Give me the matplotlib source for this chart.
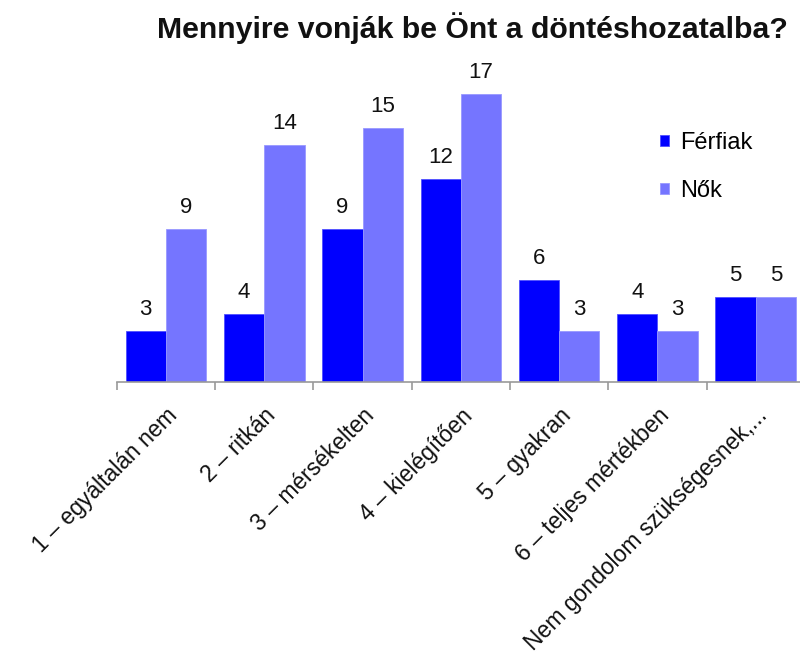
import matplotlib
matplotlib.use("Agg")
import matplotlib.pyplot as plt
import numpy as np

plt.rcParams['font.family'] = ['Liberation Sans', 'DejaVu Sans']

categories = ["1 – egyáltalán nem", "2 – ritkán", "3 – mérsékelten", "4 – kielégítően",
              "5 – gyakran", "6 – teljes mértékben", "Nem gondolom szükségesnek,..."]
ferfiak = [3, 4, 9, 12, 6, 4, 5]
nok = [9, 14, 15, 17, 3, 3, 5]
series_names = ["Férfiak", "Nők"]
colors = ["#0000FF", "#7575FF"]

fig = plt.figure(figsize=(8, 6.58), dpi=100)
ax = fig.add_axes([0.146, 0.4195, 0.86, 0.515])

x = np.arange(len(categories))
w = 0.41
b1 = ax.bar(x - w/2, ferfiak, w, color=colors[0], edgecolor="#5050FF", linewidth=0.6, label=series_names[0])
b2 = ax.bar(x + w/2, nok, w, color=colors[1], edgecolor="#9898FF", linewidth=0.6, label=series_names[1])

for bars, vals in ((b1, ferfiak), (b2, nok)):
    for r, v in zip(bars, vals):
        ax.annotate(str(v), (r.get_x() + r.get_width()/2, v), xytext=(0, 8),
                    textcoords="offset points", ha="center", va="bottom",
                    fontsize=16, color="#111111")

ax.set_xlim(-0.5, len(categories) - 0.5)
ax.set_ylim(0, 20)
ax.set_yticks([])
for s in ("top", "right", "left"):
    ax.spines[s].set_visible(False)
ax.spines["bottom"].set_color("#999999")
ax.spines["bottom"].set_linewidth(1.2)

ax.set_xticks(np.arange(len(categories) + 1) - 0.5, minor=False)
ax.set_xticklabels([])
ax.tick_params(axis="x", which="major", length=6, color="#999999", width=1.2)
ax.set_xticks(x, minor=True)
ax.set_xticklabels(categories, minor=True, rotation=45, ha="right",
                   rotation_mode="anchor", fontsize=16.5, color="#111111")
ax.tick_params(axis="x", which="minor", length=0, pad=16)

leg = ax.legend(loc="center left", bbox_to_anchor=(660/800, 1 - 167/658),
                bbox_transform=fig.transFigure, frameon=False, borderpad=0,
                borderaxespad=0, fontsize=17, handlelength=0.36, handleheight=0.36,
                handletextpad=0.5, labelspacing=1.1)

fig.text(157/800, 1 - 28/658, "Mennyire vonják be Önt a döntéshozatalba?", ha="left",
         va="center", fontsize=21.8, fontweight="bold", color="#111111")

fig.savefig("out.png", dpi=100)
